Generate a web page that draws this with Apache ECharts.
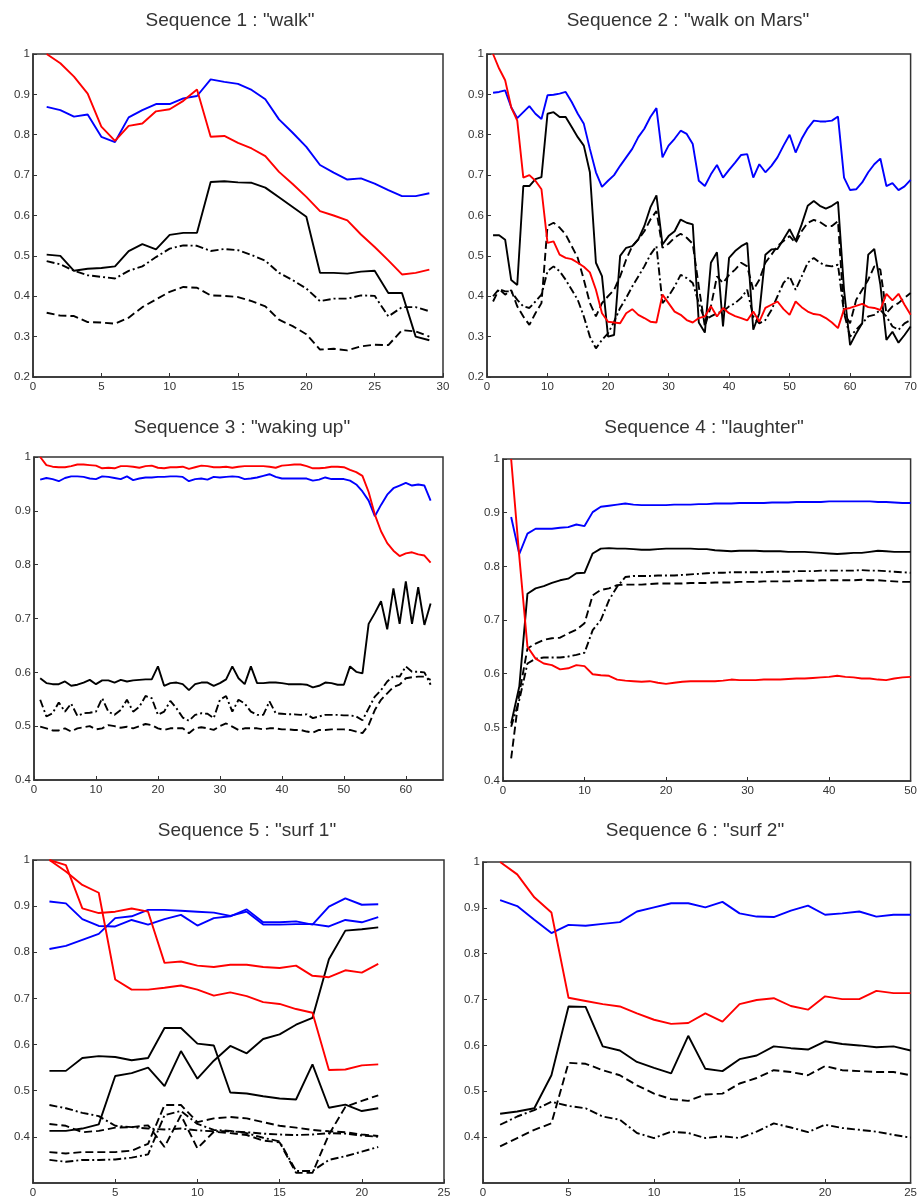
<!DOCTYPE html>
<html style="height: 100%">
<head>
    <meta charset="utf-8">
    <title>index</title>
    <style>
        html, body { margin: 0; padding: 0; background: #fff; }
        #container { width: 920px; height: 1202px; }
    </style>
</head>
<body>
    <div id="container"></div>
</body>
<script src="https://cdn.jsdelivr.net/npm/echarts@6/dist/echarts.min.js"></script>
<script type="text/javascript">
    // titles
    var titles = ['Sequence 1 : "walk"', 'Sequence 2 : "walk on Mars"', 'Sequence 3 : "waking up"',
        'Sequence 4 : "laughter"', 'Sequence 5 : "surf 1"', 'Sequence 6 : "surf 2"'];

    // axis ranges [min, max, step]
    var xRanges = [[0, 30, 5], [0, 70, 10], [0, 66, 10], [0, 50, 10], [0, 25, 5], [0, 25, 5]];
    var yRanges = [[0.2, 1], [0.2, 1], [0.4, 1], [0.4, 1], [0.3, 1], [0.3, 1]];

    // ---- sequence 1 (x = 1..29)
    var s1Red = [1.0, 0.977, 0.944, 0.902, 0.820, 0.785, 0.822, 0.828, 0.858, 0.863, 0.884, 0.912, 0.795, 0.797, 0.780,
        0.766, 0.747, 0.708, 0.678, 0.646, 0.611, 0.600, 0.588, 0.553, 0.522, 0.489, 0.454, 0.458, 0.466];
    var s1Blue = [0.869, 0.861, 0.845, 0.850, 0.795, 0.782, 0.843, 0.861, 0.876, 0.876, 0.890, 0.896, 0.937, 0.931, 0.926,
        0.911, 0.888, 0.838, 0.805, 0.770, 0.725, 0.706, 0.689, 0.692, 0.679, 0.663, 0.648, 0.648, 0.655];
    var s1Solid = [0.503, 0.500, 0.463, 0.468, 0.470, 0.474, 0.512, 0.529, 0.516, 0.552, 0.557, 0.557, 0.683, 0.685, 0.682,
        0.681, 0.669, 0.645, 0.621, 0.597, 0.458, 0.458, 0.456, 0.461, 0.463, 0.408, 0.408, 0.300, 0.291];
    var s1DashDot = [0.487, 0.479, 0.463, 0.452, 0.448, 0.444, 0.463, 0.474, 0.497, 0.518, 0.526, 0.525, 0.512, 0.517, 0.514,
        0.502, 0.488, 0.458, 0.440, 0.419, 0.388, 0.394, 0.394, 0.402, 0.401, 0.350, 0.373, 0.373, 0.363];
    var s1Dash = [0.359, 0.352, 0.351, 0.336, 0.335, 0.332, 0.347, 0.373, 0.392, 0.411, 0.423, 0.421, 0.402, 0.401, 0.398,
        0.388, 0.375, 0.342, 0.326, 0.306, 0.268, 0.270, 0.266, 0.276, 0.280, 0.279, 0.316, 0.313, 0.300];

    // ---- sequence 2 (x = 1..70)
    var s2Red = [1.0, 0.964, 0.935, 0.868, 0.835, 0.694, 0.700, 0.686, 0.665, 0.532,
        0.536, 0.503, 0.495, 0.492, 0.483, 0.473, 0.459, 0.416, 0.358, 0.337,
        0.335, 0.333, 0.358, 0.368, 0.354, 0.346, 0.337, 0.335, 0.404, 0.383,
        0.362, 0.354, 0.341, 0.335, 0.346, 0.350, 0.375, 0.350, 0.371, 0.358,
        0.351, 0.346, 0.340, 0.362, 0.337, 0.371, 0.379, 0.387, 0.368, 0.354,
        0.387, 0.373, 0.362, 0.356, 0.354, 0.346, 0.335, 0.321, 0.368, 0.371,
        0.376, 0.381, 0.373, 0.371, 0.366, 0.406, 0.390, 0.406, 0.379, 0.354];
    var s2Blue = [0.904, 0.906, 0.910, 0.868, 0.841, 0.856, 0.871, 0.852, 0.839, 0.898,
        0.899, 0.902, 0.906, 0.881, 0.852, 0.827, 0.765, 0.707, 0.671, 0.686,
        0.700, 0.723, 0.744, 0.765, 0.794, 0.815, 0.844, 0.866, 0.744, 0.773,
        0.790, 0.810, 0.802, 0.777, 0.686, 0.673, 0.702, 0.725, 0.694, 0.713,
        0.731, 0.750, 0.752, 0.694, 0.727, 0.707, 0.723, 0.744, 0.773, 0.800,
        0.756, 0.790, 0.816, 0.835, 0.833, 0.833, 0.835, 0.845, 0.694, 0.663,
        0.665, 0.682, 0.707, 0.727, 0.741, 0.673, 0.680, 0.663, 0.672, 0.688];
    var s2Solid = [0.551, 0.551, 0.540, 0.440, 0.428, 0.673, 0.673, 0.690, 0.695, 0.852,
        0.856, 0.844, 0.844, 0.819, 0.794, 0.773, 0.707, 0.483, 0.450, 0.300,
        0.304, 0.500, 0.520, 0.524, 0.541, 0.574, 0.620, 0.650, 0.528, 0.549,
        0.561, 0.590, 0.582, 0.578, 0.335, 0.310, 0.483, 0.509, 0.325, 0.495,
        0.512, 0.524, 0.532, 0.317, 0.358, 0.503, 0.516, 0.517, 0.541, 0.566,
        0.537, 0.578, 0.624, 0.636, 0.624, 0.617, 0.624, 0.634, 0.416, 0.279,
        0.308, 0.333, 0.503, 0.517, 0.429, 0.292, 0.312, 0.285, 0.304, 0.325];
    var s2Dash = [0.400, 0.418, 0.404, 0.415, 0.375, 0.350, 0.329, 0.358, 0.383, 0.574,
        0.582, 0.570, 0.553, 0.524, 0.495, 0.441, 0.383, 0.350, 0.383, 0.400,
        0.416, 0.449, 0.491, 0.524, 0.541, 0.561, 0.590, 0.611, 0.520, 0.530,
        0.545, 0.555, 0.545, 0.530, 0.424, 0.325, 0.375, 0.449, 0.433, 0.453,
        0.466, 0.483, 0.474, 0.416, 0.441, 0.483, 0.503, 0.524, 0.537, 0.549,
        0.532, 0.561, 0.582, 0.589, 0.584, 0.574, 0.574, 0.586, 0.358, 0.333,
        0.391, 0.416, 0.441, 0.474, 0.466, 0.358, 0.375, 0.383, 0.396, 0.408];
    var s2DashDot = [0.387, 0.418, 0.412, 0.412, 0.391, 0.375, 0.371, 0.387, 0.404, 0.462,
        0.474, 0.462, 0.441, 0.416, 0.391, 0.350, 0.300, 0.271, 0.292, 0.308,
        0.337, 0.371, 0.396, 0.424, 0.449, 0.474, 0.503, 0.524, 0.383, 0.400,
        0.424, 0.453, 0.445, 0.433, 0.383, 0.341, 0.350, 0.358, 0.362, 0.375,
        0.383, 0.396, 0.416, 0.350, 0.333, 0.341, 0.366, 0.400, 0.433, 0.449,
        0.416, 0.449, 0.483, 0.495, 0.483, 0.476, 0.474, 0.478, 0.358, 0.300,
        0.317, 0.333, 0.350, 0.354, 0.366, 0.350, 0.325, 0.317, 0.333, 0.341];

    // ---- sequence 3 (x = 1..64)
    var s3Red = [1.0, 0.985, 0.982, 0.981, 0.981, 0.983, 0.986, 0.986, 0.985, 0.984,
        0.979, 0.980, 0.979, 0.983, 0.983, 0.982, 0.980, 0.983, 0.984, 0.980,
        0.979, 0.981, 0.981, 0.982, 0.978, 0.981, 0.984, 0.983, 0.981, 0.981,
        0.982, 0.980, 0.982, 0.983, 0.983, 0.983, 0.983, 0.982, 0.980, 0.984,
        0.985, 0.986, 0.986, 0.983, 0.979, 0.979, 0.980, 0.982, 0.982, 0.981,
        0.976, 0.972, 0.965, 0.935, 0.893, 0.862, 0.840, 0.826, 0.816, 0.821,
        0.823, 0.819, 0.817, 0.804];
    var s3Blue = [0.958, 0.961, 0.959, 0.955, 0.961, 0.964, 0.964, 0.963, 0.960, 0.959,
        0.964, 0.963, 0.961, 0.959, 0.964, 0.957, 0.960, 0.962, 0.962, 0.963,
        0.963, 0.964, 0.964, 0.963, 0.955, 0.959, 0.960, 0.958, 0.963, 0.962,
        0.963, 0.964, 0.963, 0.959, 0.960, 0.962, 0.965, 0.968, 0.963, 0.960,
        0.960, 0.960, 0.960, 0.960, 0.956, 0.958, 0.962, 0.959, 0.959, 0.959,
        0.956, 0.949, 0.936, 0.919, 0.890, 0.911, 0.930, 0.942, 0.947, 0.952,
        0.947, 0.949, 0.947, 0.919];
    var s3Solid = [0.589, 0.580, 0.578, 0.578, 0.583, 0.575, 0.577, 0.581, 0.586, 0.578,
        0.585, 0.585, 0.581, 0.586, 0.583, 0.585, 0.586, 0.587, 0.587, 0.611,
        0.575, 0.580, 0.581, 0.578, 0.567, 0.578, 0.581, 0.581, 0.575, 0.580,
        0.587, 0.611, 0.589, 0.578, 0.611, 0.580, 0.580, 0.581, 0.581, 0.580,
        0.578, 0.578, 0.578, 0.577, 0.572, 0.575, 0.581, 0.580, 0.577, 0.577,
        0.611, 0.601, 0.598, 0.690, 0.710, 0.732, 0.680, 0.756, 0.690, 0.769,
        0.690, 0.758, 0.688, 0.728];
    var s3DashDot = [0.549, 0.518, 0.524, 0.544, 0.527, 0.542, 0.519, 0.524, 0.525, 0.527,
        0.552, 0.527, 0.521, 0.530, 0.549, 0.527, 0.536, 0.556, 0.552, 0.521,
        0.527, 0.547, 0.533, 0.516, 0.510, 0.521, 0.524, 0.523, 0.515, 0.549,
        0.556, 0.527, 0.549, 0.542, 0.527, 0.521, 0.521, 0.546, 0.524, 0.523,
        0.522, 0.522, 0.521, 0.522, 0.515, 0.518, 0.521, 0.521, 0.521, 0.520,
        0.520, 0.518, 0.511, 0.533, 0.555, 0.567, 0.583, 0.593, 0.592, 0.611,
        0.601, 0.601, 0.600, 0.577];
    var s3Dash = [0.499, 0.496, 0.492, 0.492, 0.496, 0.490, 0.496, 0.498, 0.500, 0.494,
        0.496, 0.502, 0.500, 0.497, 0.499, 0.496, 0.500, 0.504, 0.502, 0.496,
        0.493, 0.496, 0.496, 0.496, 0.487, 0.496, 0.498, 0.496, 0.493, 0.500,
        0.505, 0.499, 0.493, 0.496, 0.496, 0.496, 0.494, 0.496, 0.496, 0.494,
        0.494, 0.493, 0.493, 0.490, 0.488, 0.493, 0.493, 0.494, 0.494, 0.494,
        0.493, 0.490, 0.487, 0.502, 0.530, 0.549, 0.561, 0.573, 0.577, 0.589,
        0.591, 0.592, 0.592, 0.586];

    // ---- sequence 4 (x = 1..50)
    var s4Red = [1.0, 0.818, 0.650, 0.628, 0.619, 0.616, 0.608, 0.610, 0.616, 0.614,
        0.599, 0.597, 0.596, 0.589, 0.587, 0.586, 0.585, 0.586, 0.583, 0.581,
        0.583, 0.585, 0.586, 0.586, 0.586, 0.586, 0.587, 0.589, 0.588, 0.588,
        0.588, 0.589, 0.589, 0.589, 0.590, 0.591, 0.591, 0.592, 0.593, 0.594,
        0.596, 0.594, 0.593, 0.591, 0.591, 0.589, 0.588, 0.591, 0.593, 0.594];
    var s4Blue = [0.892, 0.823, 0.861, 0.870, 0.870, 0.870, 0.872, 0.873, 0.878, 0.875,
        0.901, 0.911, 0.913, 0.915, 0.917, 0.915, 0.914, 0.914, 0.914, 0.914,
        0.915, 0.915, 0.915, 0.916, 0.916, 0.917, 0.917, 0.917, 0.918, 0.918,
        0.918, 0.918, 0.919, 0.919, 0.919, 0.920, 0.920, 0.920, 0.920, 0.921,
        0.921, 0.921, 0.921, 0.921, 0.921, 0.920, 0.920, 0.919, 0.918, 0.918];
    var s4Solid = [0.507, 0.576, 0.749, 0.759, 0.763, 0.769, 0.774, 0.777, 0.787, 0.788,
        0.824, 0.833, 0.834, 0.833, 0.833, 0.832, 0.831, 0.831, 0.832, 0.833,
        0.833, 0.833, 0.833, 0.832, 0.832, 0.830, 0.829, 0.828, 0.829, 0.829,
        0.829, 0.828, 0.828, 0.828, 0.827, 0.827, 0.827, 0.826, 0.825, 0.824,
        0.823, 0.824, 0.825, 0.825, 0.827, 0.829, 0.828, 0.827, 0.827, 0.827];
    var s4Dash = [0.442, 0.563, 0.647, 0.656, 0.663, 0.666, 0.667, 0.675, 0.682, 0.694,
        0.746, 0.756, 0.759, 0.765, 0.766, 0.766, 0.766, 0.767, 0.768, 0.768,
        0.768, 0.768, 0.769, 0.769, 0.769, 0.770, 0.770, 0.770, 0.771, 0.771,
        0.771, 0.772, 0.772, 0.772, 0.772, 0.773, 0.773, 0.773, 0.774, 0.774,
        0.774, 0.774, 0.774, 0.775, 0.774, 0.774, 0.773, 0.772, 0.771, 0.771];
    var s4DashDot = [0.501, 0.551, 0.619, 0.628, 0.630, 0.630, 0.630, 0.632, 0.635, 0.639,
        0.681, 0.700, 0.737, 0.762, 0.780, 0.782, 0.782, 0.782, 0.783, 0.783,
        0.783, 0.784, 0.785, 0.786, 0.787, 0.788, 0.788, 0.789, 0.789, 0.789,
        0.789, 0.789, 0.790, 0.790, 0.790, 0.791, 0.791, 0.791, 0.792, 0.792,
        0.792, 0.792, 0.792, 0.793, 0.792, 0.792, 0.791, 0.790, 0.789, 0.788];

    // ---- sequence 5 (x = 1..21), two runs of each curve
    var s5RedA = [1.0, 0.989, 0.895, 0.885, 0.888, 0.895, 0.888, 0.777, 0.780, 0.771, 0.768,
        0.773, 0.773, 0.768, 0.766, 0.771, 0.749, 0.746, 0.761, 0.756, 0.775];
    var s5RedB = [1.0, 0.975, 0.946, 0.929, 0.741, 0.719, 0.719, 0.723, 0.728, 0.719, 0.706,
        0.713, 0.705, 0.692, 0.688, 0.677, 0.669, 0.545, 0.546, 0.555, 0.557];
    var s5BlueA = [0.910, 0.906, 0.872, 0.857, 0.856, 0.870, 0.860, 0.872, 0.881, 0.858, 0.874,
        0.878, 0.893, 0.865, 0.865, 0.867, 0.860, 0.899, 0.917, 0.903, 0.904];
    var s5BlueB = [0.807, 0.814, 0.827, 0.840, 0.874, 0.878, 0.892, 0.892, 0.890, 0.888, 0.886,
        0.879, 0.888, 0.860, 0.860, 0.861, 0.861, 0.856, 0.870, 0.865, 0.876];
    var s5SolidA = [0.543, 0.543, 0.571, 0.575, 0.573, 0.566, 0.571, 0.636, 0.636, 0.602, 0.598,
        0.496, 0.494, 0.488, 0.483, 0.481, 0.557, 0.463, 0.470, 0.456, 0.462];
    var s5SolidB = [0.413, 0.413, 0.418, 0.427, 0.532, 0.538, 0.550, 0.510, 0.586, 0.526, 0.565,
        0.597, 0.581, 0.612, 0.622, 0.643, 0.658, 0.785, 0.847, 0.850, 0.854];
    var s5DashDotA = [0.469, 0.462, 0.452, 0.445, 0.424, 0.421, 0.418, 0.416, 0.418, 0.414, 0.412,
        0.412, 0.410, 0.407, 0.405, 0.404, 0.405, 0.408, 0.407, 0.403, 0.400];
    var s5DashA = [0.428, 0.424, 0.410, 0.413, 0.420, 0.421, 0.425, 0.378, 0.447, 0.375, 0.411,
        0.408, 0.404, 0.392, 0.388, 0.322, 0.322, 0.405, 0.465, 0.478, 0.490];
    var s5DashB = [0.367, 0.364, 0.367, 0.367, 0.367, 0.370, 0.385, 0.469, 0.469, 0.432, 0.440,
        0.443, 0.440, 0.432, 0.424, 0.420, 0.415, 0.412, 0.410, 0.405, 0.402];
    var s5DashDotB = [0.350, 0.346, 0.350, 0.350, 0.351, 0.355, 0.362, 0.447, 0.456, 0.428, 0.415,
        0.413, 0.408, 0.398, 0.390, 0.326, 0.326, 0.350, 0.358, 0.368, 0.378];

    // ---- sequence 6 (x = 1..25)
    var s6Red = [1.0, 0.973, 0.923, 0.890, 0.704, 0.697, 0.690, 0.685, 0.670, 0.656, 0.647, 0.649,
        0.670, 0.652, 0.690, 0.699, 0.703, 0.686, 0.678, 0.707, 0.701, 0.701, 0.719, 0.714, 0.714];
    var s6Blue = [0.917, 0.904, 0.874, 0.845, 0.863, 0.861, 0.865, 0.869, 0.892, 0.901, 0.910, 0.910,
        0.901, 0.913, 0.888, 0.881, 0.880, 0.894, 0.905, 0.885, 0.888, 0.892, 0.881, 0.885, 0.885];
    var s6Solid = [0.451, 0.456, 0.463, 0.535, 0.685, 0.684, 0.598, 0.589, 0.564, 0.551, 0.539, 0.621,
        0.549, 0.544, 0.570, 0.578, 0.598, 0.594, 0.591, 0.609, 0.603, 0.600, 0.596, 0.598, 0.589];
    var s6Dash = [0.380, 0.398, 0.416, 0.430, 0.562, 0.560, 0.546, 0.535, 0.513, 0.495, 0.483, 0.479,
        0.493, 0.495, 0.517, 0.529, 0.546, 0.542, 0.535, 0.555, 0.546, 0.544, 0.542, 0.542, 0.535];
    var s6DashDot = [0.427, 0.445, 0.459, 0.477, 0.468, 0.463, 0.445, 0.438, 0.409, 0.398, 0.412, 0.409,
        0.398, 0.402, 0.398, 0.412, 0.430, 0.421, 0.411, 0.427, 0.420, 0.416, 0.412, 0.405, 0.399];

    var RED = '#ff0000', BLUE = '#0000ff', BLACK = '#000000';
    var DASH = [8, 4], DASHDOT = [8, 3, 2, 3];

    // plot boxes (px)
    var boxes = [
        { left: 33, top: 54, width: 410, height: 323 },
        { left: 487, top: 54, width: 424, height: 323 },
        { left: 34, top: 457, width: 409, height: 323 },
        { left: 503, top: 459, width: 409, height: 322 },
        { left: 33, top: 860, width: 411, height: 323 },
        { left: 483, top: 862, width: 432, height: 321 }
    ];
    var titlePos = [[225, 6], [683, 6], [237, 413], [699, 413], [242, 816], [690, 816]];

    function curve(g, vals, color, dash) {
        return {
            type: 'line', xAxisIndex: g, yAxisIndex: g, symbol: 'none', silent: true,
            data: vals.map(function (v, i) { return [i + 1, v]; }),
            lineStyle: { color: color, width: 1.9, type: dash || 'solid' }
        };
    }

    var series = [
        curve(0, s1Dash, BLACK, DASH), curve(0, s1DashDot, BLACK, DASHDOT), curve(0, s1Solid, BLACK),
        curve(0, s1Blue, BLUE), curve(0, s1Red, RED),
        curve(1, s2Dash, BLACK, DASH), curve(1, s2DashDot, BLACK, DASHDOT), curve(1, s2Solid, BLACK),
        curve(1, s2Blue, BLUE), curve(1, s2Red, RED),
        curve(2, s3Dash, BLACK, DASH), curve(2, s3DashDot, BLACK, DASHDOT), curve(2, s3Solid, BLACK),
        curve(2, s3Blue, BLUE), curve(2, s3Red, RED),
        curve(3, s4Dash, BLACK, DASH), curve(3, s4DashDot, BLACK, DASHDOT), curve(3, s4Solid, BLACK),
        curve(3, s4Blue, BLUE), curve(3, s4Red, RED),
        curve(4, s5DashA, BLACK, DASH), curve(4, s5DashB, BLACK, DASH),
        curve(4, s5DashDotA, BLACK, DASHDOT), curve(4, s5DashDotB, BLACK, DASHDOT),
        curve(4, s5SolidA, BLACK), curve(4, s5SolidB, BLACK),
        curve(4, s5BlueA, BLUE), curve(4, s5BlueB, BLUE),
        curve(4, s5RedA, RED), curve(4, s5RedB, RED),
        curve(5, s6Dash, BLACK, DASH), curve(5, s6DashDot, BLACK, DASHDOT), curve(5, s6Solid, BLACK),
        curve(5, s6Blue, BLUE), curve(5, s6Red, RED)
    ];

    var labelStyle = { color: '#333', fontSize: 11.5, fontFamily: 'Liberation Sans' };
    var lineCol = '#333';

    var option = {
        backgroundColor: '#fff',
        animation: false,
        title: titles.map(function (t, i) {
            return {
                text: t, left: titlePos[i][0], top: titlePos[i][1], textAlign: 'center',
                textStyle: { fontSize: 19, fontWeight: 'normal', color: '#333', fontFamily: 'Liberation Sans' }
            };
        }),
        grid: boxes.map(function (b) {
            return {
                left: b.left, top: b.top, width: b.width, height: b.height,
                show: true, borderColor: lineCol, borderWidth: 1.5, backgroundColor: '#fff'
            };
        }),
        xAxis: xRanges.map(function (r, i) {
            return {
                type: 'value', gridIndex: i, min: r[0], max: r[1], interval: r[2],
                axisLine: { show: true, onZero: false, lineStyle: { color: lineCol, width: 1.5 } },
                axisTick: { show: true, inside: true, length: 4, lineStyle: { color: lineCol } },
                axisLabel: Object.assign({ margin: 4, showMaxLabel: i !== 2 }, labelStyle),
                splitLine: { show: false }
            };
        }),
        yAxis: yRanges.map(function (r, i) {
            return {
                type: 'value', gridIndex: i, min: r[0], max: r[1], interval: 0.1,
                axisLine: { show: true, onZero: false, lineStyle: { color: lineCol, width: 1.5 } },
                axisTick: { show: true, inside: true, length: 4, lineStyle: { color: lineCol } },
                axisLabel: Object.assign({ margin: 3, showMinLabel: i < 4 }, labelStyle),
                splitLine: { show: false }
            };
        }),
        series: series
    };

    var dom = document.getElementById("container");
    var myChart = echarts.init(dom, null, { renderer: 'canvas' });
    myChart.setOption(option, true);
</script>
</html>
